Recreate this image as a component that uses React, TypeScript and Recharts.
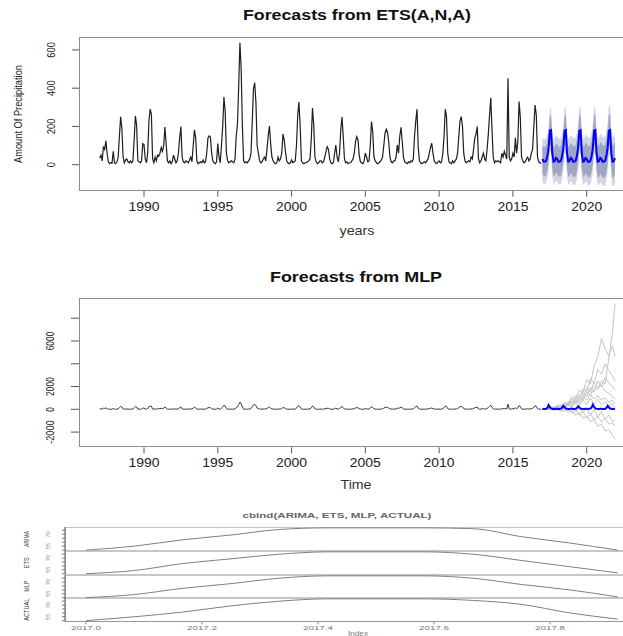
import React from "react";
import { ComposedChart, LineChart, Line, Area, XAxis, YAxis } from "recharts";

const FONT = '"Liberation Sans", Arial, Helvetica, sans-serif';

// ---------- Monthly precipitation, Jan..Dec per row ----------
const histStart = 1987;
const precip1987to1996 = [
  [35, 50, 20, 95, 80, 125, 60, 15, 5, 10, 8, 70],
  [10, 5, 15, 40, 150, 250, 190, 40, 10, 25, 30, 15],
  [10, 20, 10, 20, 130, 256, 205, 20, 15, 10, 20, 110],
  [105, 30, 10, 60, 230, 291, 265, 30, 10, 40, 20, 50],
  [45, 60, 90, 70, 100, 197, 110, 20, 10, 20, 5, 15],
  [50, 30, 10, 20, 60, 140, 199, 40, 15, 10, 20, 15],
  [10, 25, 40, 15, 100, 182, 140, 20, 5, 10, 15, 10],
  [25, 10, 15, 60, 140, 150, 145, 60, 20, 10, 5, 15],
  [110, 40, 10, 100, 200, 354, 280, 60, 20, 10, 15, 20],
  [15, 10, 30, 150, 210, 410, 638, 500, 200, 20, 10, 15],
];
const precip1997to2006 = [
  [10, 20, 30, 60, 220, 395, 429, 330, 100, 60, 20, 10],
  [15, 30, 40, 20, 80, 150, 202, 110, 40, 20, 10, 5],
  [10, 40, 20, 30, 60, 160, 130, 70, 20, 10, 5, 10],
  [25, 10, 15, 20, 100, 260, 328, 200, 20, 10, 5, 10],
  [10, 15, 20, 30, 130, 296, 210, 40, 15, 5, 10, 20],
  [20, 10, 15, 40, 70, 94, 80, 30, 10, 5, 10, 60],
  [103, 40, 15, 60, 180, 249, 150, 30, 10, 15, 5, 10],
  [10, 20, 30, 60, 120, 146, 130, 50, 15, 10, 5, 20],
  [60, 40, 15, 20, 100, 225, 170, 40, 20, 10, 5, 10],
  [15, 25, 40, 100, 165, 185, 170, 120, 40, 15, 10, 20],
];
const precip2007to2016 = [
  [20, 40, 103, 60, 150, 195, 120, 40, 15, 10, 5, 15],
  [10, 20, 15, 30, 150, 230, 290, 90, 20, 10, 5, 10],
  [15, 10, 20, 30, 60, 90, 112, 60, 20, 10, 5, 15],
  [20, 10, 15, 60, 150, 290, 250, 60, 15, 10, 5, 20],
  [10, 20, 30, 60, 150, 230, 251, 200, 60, 20, 10, 15],
  [20, 15, 40, 30, 80, 140, 160, 199, 30, 10, 20, 40],
  [60, 30, 20, 80, 160, 260, 350, 180, 40, 10, 20, 15],
  [20, 15, 10, 60, 40, 70, 50, 30, 452, 40, 20, 30],
  [60, 40, 140, 60, 120, 330, 250, 40, 20, 10, 15, 30],
  [40, 20, 30, 60, 80, 200, 312, 260, 40, 15, 10, 5],
];

// ---------- ETS(A,N,A) forecasts 2017..2021 ----------
const fcStart = 2017;
const etsMean = [
  30, 16, 16, 20, 45, 86, 178, 181, 60, 16, 18, 35,
  30, 16, 16, 20, 45, 86, 178, 181, 60, 16, 18, 35,
  30, 16, 16, 20, 45, 86, 178, 181, 60, 16, 18, 35,
  30, 16, 16, 20, 45, 86, 178, 181, 60, 16, 18, 35,
  30, 16, 16, 20, 45, 86, 178, 181, 60, 16, 18, 35,
];
const etsHi80 = [
  106, 92, 92, 96, 121, 162, 254, 257, 136, 92, 94, 111,
  108, 94, 94, 98, 123, 164, 256, 259, 138, 94, 96, 113,
  110, 96, 96, 100, 125, 166, 258, 261, 140, 96, 98, 115,
  112, 98, 98, 102, 127, 168, 260, 263, 142, 98, 100, 117,
  114, 100, 100, 104, 129, 170, 262, 265, 144, 100, 102, 119,
];
const etsLo80 = [
  -46, -60, -60, -56, -31, 10, 102, 105, -16, -60, -58, -41,
  -48, -62, -62, -58, -33, 8, 100, 103, -18, -62, -60, -43,
  -50, -64, -64, -60, -35, 6, 98, 101, -20, -64, -62, -45,
  -52, -66, -66, -62, -37, 4, 96, 99, -22, -66, -64, -47,
  -54, -68, -68, -64, -39, 2, 94, 97, -24, -68, -66, -49,
];
const etsHi95 = [
  146, 132, 132, 136, 161, 202, 294, 297, 176, 132, 134, 151,
  149, 135, 135, 139, 164, 205, 297, 300, 179, 135, 137, 154,
  152, 138, 138, 142, 167, 208, 300, 303, 182, 138, 140, 157,
  155, 141, 141, 145, 170, 211, 303, 306, 185, 141, 143, 160,
  158, 144, 144, 148, 173, 214, 306, 309, 188, 144, 146, 163,
];
const etsLo95 = [
  -86, -100, -100, -96, -71, -30, 62, 65, -56, -100, -98, -81,
  -89, -103, -103, -99, -74, -33, 59, 62, -59, -103, -101, -84,
  -92, -106, -106, -102, -77, -36, 56, 59, -62, -106, -104, -87,
  -95, -109, -109, -105, -80, -39, 53, 56, -65, -109, -107, -90,
  -98, -112, -112, -108, -83, -42, 50, 53, -68, -112, -110, -93,
];

// ---------- MLP forecasts ----------
const mlpMean = [
  40, 30, 30, 50, 120, 380, 200, 80, 40, 30, 30, 40,
  40, 30, 30, 60, 130, 300, 180, 70, 40, 30, 30, 40,
  40, 30, 30, 50, 110, 260, 160, 60, 40, 30, 30, 40,
  40, 30, 40, 60, 150, 420, 220, 80, 40, 30, 30, 40,
  40, 30, 30, 50, 120, 300, 180, 70, 40, 30, 30, 40,
];
// month index (from Jan 2017) of each simulated-path point
const simMonthIdx = [0, 3, 6, 9, 12, 15, 18, 21, 24, 27, 30, 33, 36, 39, 42, 45, 48, 51, 54, 57, 59];
const sim1 = [0, 40, 120, 60, 250, 150, 450, 300, 700, 500, 1000, 800, 1500, 1200, 2000, 1700, 2500, 2200, 4500, 6800, 9300];
const sim2 = [0, 60, 150, 100, 350, 250, 600, 450, 1100, 900, 1700, 1400, 2600, 2200, 3800, 4600, 6200, 5300, 4700, 5600, 4600];
const sim3 = [0, 30, 90, 200, 150, 400, 300, 700, 550, 1200, 950, 1800, 1500, 2700, 2300, 3500, 3100, 4000, 3400, 2900, 2500];
const sim4 = [0, 50, 100, 60, 250, 180, 500, 350, 900, 650, 1300, 1000, 1900, 1500, 2400, 1900, 2100, 1600, 1400, 1100, 900];
const sim5 = [0, 20, 70, 130, 90, 280, 180, 480, 300, 750, 500, 1100, 800, 1300, 900, 1200, 800, 1000, 650, 800, 500];
const sim6 = [0, -20, 40, -60, 80, -100, 150, -150, 250, -200, 180, -300, 100, -500, 0, -700, -200, -900, -500, -1100, -900];
const sim7 = [0, -30, 20, -80, 40, -180, 0, -300, -100, -500, -300, -800, -600, -1100, -900, -1500, -1300, -1900, -1800, -2300, -2600];
const sim8 = [0, 20, -40, 60, -100, 140, -200, 100, -350, 0, -500, -200, -700, -400, -900, -600, -1100, -800, -1300, -1200, -1500];
const sim9 = [0, 50, 20, 140, 40, 250, 90, 400, 180, 600, 300, 800, 400, 1000, 500, 900, 400, 700, 300, 500, 200];
const sim10 = [0, 40, 90, 180, 110, 340, 240, 600, 430, 900, 700, 1400, 1100, 1900, 1500, 2500, 2000, 2800, 2300, 2000, 1700];

// ---------- cbind(ARIMA, ETS, MLP, ACTUAL), 2017 monthly ----------
const arimaVals = [50, 55, 63, 69, 76, 78, 78, 78, 77, 67, 59, 50];
const etsVals = [50, 54, 63, 69, 75, 78, 78, 78, 75, 67, 59, 51];
const mlpVals = [50, 54, 62, 68, 75, 78, 78, 78, 75, 67, 60, 51];
const actualVals = [50, 55, 61, 69, 75, 78, 78, 78, 76, 71, 60, 52];

// ---------- ticks ----------
const yearTicks = [1990, 1995, 2000, 2005, 2010, 2015, 2020];
const etsYTicks = [0, 200, 400, 600];
const mlpYTicks = [-2000, 0, 2000, 4000, 6000, 8000];
const mlpYHidden = [4000, 8000];
const idxTicks = [2017.0, 2017.2, 2017.4, 2017.6, 2017.8];
const idxTickLabels = ["2017.0", "2017.2", "2017.4", "2017.6", "2017.8"];
const panelYTicks = [50, 55, 60, 65, 70, 75];
const panelYShown = [55, 70];

// ---------- tables ----------
const histValues = [...precip1987to1996, ...precip1997to2006, ...precip2007to2016].flat();
const histRows = histValues.map((v, i) => ({ t: histStart + i / 12, hist: v }));
const etsRows = etsMean.map((m, i) => ({
  t: fcStart + i / 12,
  mean: m,
  b80: [etsLo80[i], etsHi80[i]],
  b95: [etsLo95[i], etsHi95[i]],
}));
const topRows = [...histRows, ...etsRows];

const sims = [sim1, sim2, sim3, sim4, sim5, sim6, sim7, sim8, sim9, sim10];
const mlpRows = mlpMean.map((m, i) => {
  const row: any = { t: fcStart + i / 12, mean: m };
  const k = simMonthIdx.indexOf(i);
  if (k >= 0) sims.forEach((s, j) => { row["p" + j] = s[k]; });
  return row;
});
const midRows = [...histRows, ...mlpRows];

const cbRows = arimaVals.map((v, i) => ({
  t: fcStart + i / 12,
  ARIMA: v,
  ETS: etsVals[i],
  MLP: mlpVals[i],
  ACTUAL: actualVals[i],
}));

// ---------- tick renderers ----------
const xTick = (dy: number, size: number, perChar: number, fill: string) => (props: any) => {
  const { x, y, payload } = props;
  const s = String(payload.value);
  return (
    <text x={x} y={y + dy} textAnchor="middle" fontSize={size} fontFamily={FONT} fill={fill}
      textLength={perChar * s.length} lengthAdjust="spacingAndGlyphs">{s}</text>
  );
};

const yTick = (off: number, size: number, perChar: number, fill: string, shown?: number[], hidden?: number[]) => (props: any) => {
  const { x, y, payload } = props;
  const v = payload.value;
  if ((hidden && hidden.includes(v)) || (shown && !shown.includes(v))) return <g />;
  const s = String(v);
  return (
    <text transform={`translate(${x - off},${y}) rotate(-90)`} textAnchor="middle" fontSize={size}
      fontFamily={FONT} fill={fill} textLength={perChar * s.length} lengthAdjust="spacingAndGlyphs">{s}</text>
  );
};

const idxTick = (props: any) => {
  const { x, y, payload } = props;
  const k = idxTicks.findIndex((t) => Math.abs(t - payload.value) < 1e-6);
  const s = k >= 0 ? idxTickLabels[k] : String(payload.value);
  return (
    <text x={x} y={y + 5.5} textAnchor="middle" fontSize={6} fontFamily={FONT} fill="#777"
      textLength={30} lengthAdjust="spacingAndGlyphs">{s}</text>
  );
};

const BOX = "1.5px solid #8c8c8c";

function Frame({ left, top, width, height, border }: any) {
  return (
    <div style={{ position: "absolute", left, top, width, height, border, boxSizing: "border-box", pointerEvents: "none" }} />
  );
}

const panelDefs = [
  { key: "ARIMA", top: 527, h: 24, len: 16 },
  { key: "ETS", top: 551, h: 23.5, len: 11 },
  { key: "MLP", top: 574.5, h: 23.5, len: 11 },
  { key: "ACTUAL", top: 598, h: 23.5, len: 22 },
];

function Panel({ def, last }: any) {
  const extra = last ? 18 : 3;
  return (
    <div style={{ position: "absolute", left: 0, top: def.top - 3 }}>
      <LineChart width={660} height={def.h + 3 + extra} data={cbRows}
        margin={{ top: 3, right: 21.2, bottom: last ? 0 : 3, left: 40 }}>
        <XAxis type="number" dataKey="t" domain={[2016.9638, 2017.953]} ticks={idxTicks} interval={0}
          allowDataOverflow hide={!last} height={18} tickSize={3} tickMargin={0}
          axisLine={{ stroke: "#999" }} tickLine={{ stroke: "#888" }} tick={idxTick} />
        <YAxis type="number" domain={[48.9, 79.1]} ticks={panelYTicks} interval={0} width={25}
          tickSize={3} tickMargin={0} allowDataOverflow axisLine={{ stroke: "#555" }}
          tickLine={{ stroke: "#777" }} tick={yTick(12, 5, 3.2, "#888", panelYShown)} />
        <Line type="monotone" dataKey={def.key} stroke="#808080" strokeWidth={1} dot={false}
          activeDot={false} isAnimationActive={false} />
      </LineChart>
    </div>
  );
}

export default function App() {
  return (
    <div style={{ position: "absolute", left: 0, top: 0, width: 623, height: 636, overflow: "hidden", background: "#fff", fontFamily: FONT }}>
      {/* ---------- Top: ETS ---------- */}
      <div style={{ position: "absolute", left: 0, top: 0 }}>
        <ComposedChart width={660} height={250} data={topRows}
          margin={{ top: 37.3, right: 24.6, bottom: 29.3, left: 19 }}>
          <XAxis type="number" dataKey="t" domain={[1985.595, 2023.3]} ticks={yearTicks} interval={0}
            allowDataOverflow height={30} tickSize={6} tickMargin={0} axisLine={false}
            tickLine={{ stroke: "#555" }} tick={xTick(14, 12, 7.75, "#222")} />
          <YAxis type="number" domain={[-136, 666]} ticks={etsYTicks} interval={0} width={60}
            allowDataOverflow tickSize={7} tickMargin={0} axisLine={false}
            tickLine={{ stroke: "#555" }} tick={yTick(17.5, 10, 5.2, "#222")} />
          <Area type="linear" dataKey="b95" stroke="none" fill="#d3d5e2" fillOpacity={1}
            isAnimationActive={false} activeDot={false} />
          <Area type="linear" dataKey="b80" stroke="none" fill="#a0a5c8" fillOpacity={1}
            isAnimationActive={false} activeDot={false} />
          <Line type="linear" dataKey="hist" stroke="#1e1e1e" strokeWidth={1.2} dot={false}
            activeDot={false} isAnimationActive={false} />
          <Line type="linear" dataKey="mean" stroke="#0000ff" strokeWidth={2} dot={false}
            activeDot={false} isAnimationActive={false} />
        </ComposedChart>
      </div>
      <Frame left={79} top={37.3} width={560} height={153.4} border={BOX} />

      {/* ---------- Middle: MLP ---------- */}
      <div style={{ position: "absolute", left: 0, top: 260 }}>
        <ComposedChart width={660} height={240} data={midRows}
          margin={{ top: 37.7, right: 24.6, bottom: 22.7, left: 19 }}>
          <XAxis type="number" dataKey="t" domain={[1985.595, 2023.3]} ticks={yearTicks} interval={0}
            allowDataOverflow height={30} tickSize={6} tickMargin={0} axisLine={false}
            tickLine={{ stroke: "#555" }} tick={xTick(14, 12, 7.75, "#222")} />
          <YAxis type="number" domain={[-3336, 9800]} ticks={mlpYTicks} interval={0} width={60}
            allowDataOverflow tickSize={8} tickMargin={0} axisLine={false}
            tickLine={{ stroke: "#555" }} tick={yTick(17, 11, 4.7, "#222", undefined, mlpYHidden)} />
          <Line type="linear" dataKey="hist" stroke="#222" strokeWidth={0.9} dot={false}
            activeDot={false} isAnimationActive={false} />
          {sims.map((_, j) => (
            <Line key={j} type="linear" dataKey={"p" + j} stroke="#c4c4c4" strokeWidth={1} dot={false}
              activeDot={false} connectNulls isAnimationActive={false} />
          ))}
          <Line type="linear" dataKey="mean" stroke="#0000ff" strokeWidth={2} dot={false}
            activeDot={false} isAnimationActive={false} />
        </ComposedChart>
      </div>
      <Frame left={79} top={297.7} width={560} height={149.6} border={BOX} />

      {/* ---------- Bottom: cbind panels ---------- */}
      {panelDefs.map((d, i) => (
        <Frame key={"f" + i} left={65} top={d.top} width={580} height={d.h} border="1.5px solid #c6c6c6" />
      ))}
      {panelDefs.map((d, i) => (
        <Panel key={d.key} def={d} last={i === panelDefs.length - 1} />
      ))}

      {/* ---------- Titles and axis labels ---------- */}
      <svg width={623} height={636} style={{ position: "absolute", left: 0, top: 0, pointerEvents: "none" }}>
        <text x={357} y={20} textAnchor="middle" fontSize={14} fontWeight="bold" fontFamily={FONT} fill="#111"
          textLength={228} lengthAdjust="spacingAndGlyphs">Forecasts from ETS(A,N,A)</text>
        <text transform="translate(22,114) rotate(-90)" textAnchor="middle" fontSize={11} fontFamily={FONT} fill="#222"
          textLength={98} lengthAdjust="spacingAndGlyphs">Amount Of Precipitation</text>
        <text x={357} y={235} textAnchor="middle" fontSize={12} fontFamily={FONT} fill="#333"
          textLength={35} lengthAdjust="spacingAndGlyphs">years</text>

        <text x={356} y={282} textAnchor="middle" fontSize={14} fontWeight="bold" fontFamily={FONT} fill="#111"
          textLength={172} lengthAdjust="spacingAndGlyphs">Forecasts from MLP</text>
        <text x={356} y={489} textAnchor="middle" fontSize={12} fontFamily={FONT} fill="#333"
          textLength={31} lengthAdjust="spacingAndGlyphs">Time</text>

        <text x={337} y={518} textAnchor="middle" fontSize={7} fontWeight="bold" fontFamily={FONT} fill="#666"
          textLength={189} lengthAdjust="spacingAndGlyphs">cbind(ARIMA, ETS, MLP, ACTUAL)</text>
        {panelDefs.map((d) => (
          <text key={"l" + d.key} transform={`translate(29,${d.top + d.h / 2}) rotate(-90)`} textAnchor="middle"
            fontSize={8} fontFamily={FONT} fill="#444" textLength={d.len} lengthAdjust="spacingAndGlyphs">{d.key}</text>
        ))}
        <text x={358} y={636} textAnchor="middle" fontSize={7} fontFamily={FONT} fill="#777"
          textLength={20} lengthAdjust="spacingAndGlyphs">Index</text>
      </svg>
    </div>
  );
}
